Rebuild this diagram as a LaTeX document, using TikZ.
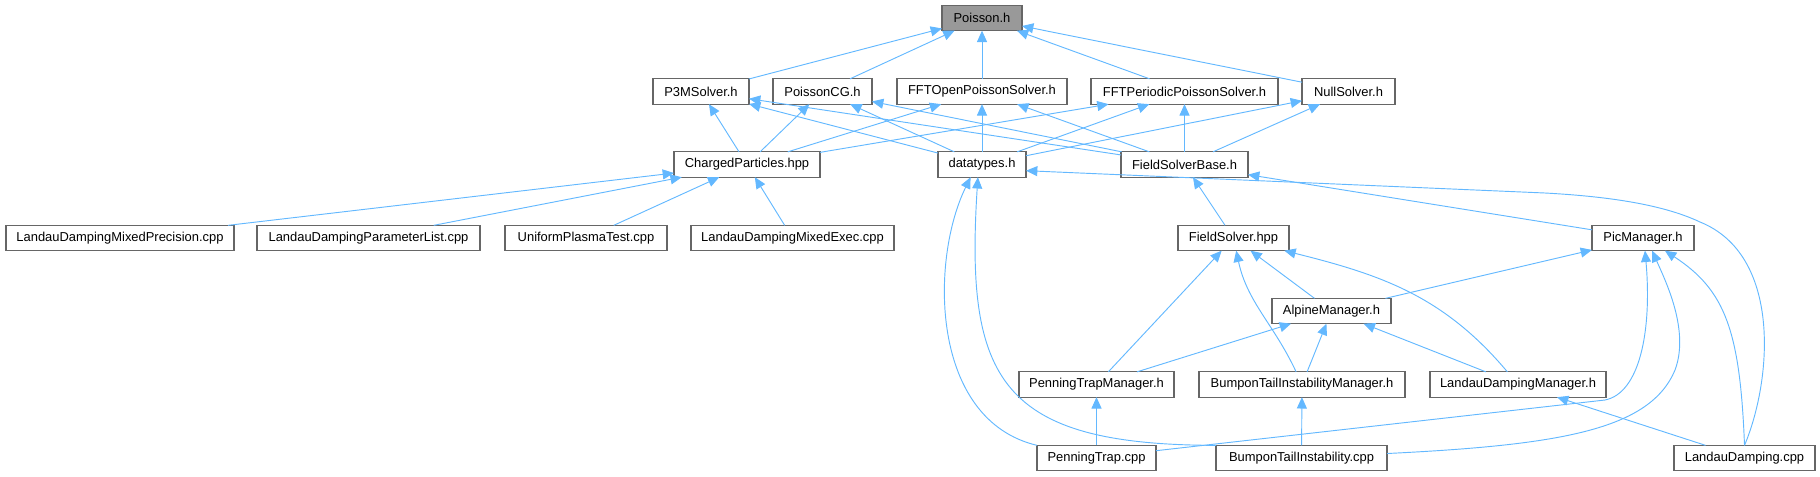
\documentclass[tikz,border=0pt]{standalone}
\usepackage{fontspec}
\setmainfont{Liberation Sans}
\usepackage{tikz}
\usetikzlibrary{arrows.meta}
\definecolor{edgeblue}{HTML}{63B8FF}
\definecolor{boxgray}{HTML}{666666}
\definecolor{rootgray}{HTML}{999999}
\newcommand{\boxheight}{19pt}
\tikzset{filebox/.style={rectangle, draw=boxgray, line width=0.8pt, fill=white, inner sep=1pt, outer sep=0pt, minimum height=\boxheight, font=\fontsize{9.7}{11}\selectfont}}
\tikzset{rootbox/.style={filebox, fill=rootgray}}
\tikzset{dep/.style={draw=edgeblue, line width=0.7pt, -{Triangle[length=8.5pt,width=7.5pt]}}}

\begin{document}
\begin{tikzpicture}[x=0.75pt,y=-0.75pt]
\useasboundingbox (0,0) rectangle (1820,476);

\node[rootbox, minimum width=60pt] (poisson) at (982,18) {Poisson.h};

\node[filebox, minimum width=72pt] (p3m) at (701,91.5) {P3MSolver.h};
\node[filebox, minimum width=74.25pt] (pcg) at (822.5,91.5) {PoissonCG.h};
\node[filebox, minimum width=127.5pt] (fftopen) at (982,91.5) {FFTOpenPoissonSolver.h};
\node[filebox, minimum width=140.25pt] (fftper) at (1184.5,91.5) {FFTPeriodicPoissonSolver.h};
\node[filebox, minimum width=69.75pt] (null) at (1348.5,91.5) {NullSolver.h};

\node[filebox, minimum width=109.5pt] (charged) at (747,164.5) {ChargedParticles.hpp};
\node[filebox, minimum width=66pt] (datatypes) at (982,164.5) {datatypes.h};
\node[filebox, minimum width=95.25pt] (fsbase) at (1184.5,164.5) {FieldSolverBase.h};

\node[filebox, minimum width=171pt] (ldmp) at (120,238) {LandauDampingMixedPrecision.cpp};
\node[filebox, minimum width=167.25pt] (ldpl) at (368.5,238) {LandauDampingParameterList.cpp};
\node[filebox, minimum width=121.5pt] (upt) at (586,238) {UniformPlasmaTest.cpp};
\node[filebox, minimum width=152.25pt] (ldme) at (792.5,238) {LandauDampingMixedExec.cpp};
\node[filebox, minimum width=83.25pt] (fsolver) at (1233.5,238) {FieldSolver.hpp};
\node[filebox, minimum width=76.5pt] (pic) at (1643,238) {PicManager.h};

\node[filebox, minimum width=89.25pt] (alpine) at (1331.5,311) {AlpineManager.h};

\node[filebox, minimum width=116.25pt] (ptm) at (1096.5,384.5) {PenningTrapManager.h};
\node[filebox, minimum width=154.5pt] (btim) at (1302,384.5) {BumponTailInstabilityManager.h};
\node[filebox, minimum width=132pt] (ldm) at (1518,384.5) {LandauDampingManager.h};

\node[filebox, minimum width=89.25pt] (pt) at (1096.5,458) {PenningTrap.cpp};
\node[filebox, minimum width=128.25pt] (bti) at (1301.5,458) {BumponTailInstability.cpp};
\node[filebox, minimum width=105.75pt] (ld) at (1744.5,458) {LandauDamping.cpp};

% solvers
\foreach \s in {p3m,pcg,fftopen,fftper,null} {
  \draw[dep] (\s) -- (poisson);
  \draw[dep] (datatypes) -- (\s);
  \draw[dep] (fsbase) -- (\s);
}
\foreach \s in {p3m,pcg,fftopen,fftper} {
  \draw[dep] (charged) -- (\s);
}

% examples on ChargedParticles
\foreach \s in {ldmp,ldpl,upt,ldme} {
  \draw[dep] (\s) -- (charged);
}

\draw[dep] (fsolver) -- (fsbase);
\draw[dep] (pic) -- (fsbase);
\draw[dep] (alpine) -- (fsolver);
\draw[dep] (alpine) -- (pic);

\draw[dep] (ptm) -- (fsolver);
\draw[dep] (ptm) -- (alpine);
\draw[dep] (btim) to[out=115, in=-78] (fsolver);
\draw[dep] (btim) -- (alpine);
\draw[dep] (ldm) to[out=130, in=-14] (fsolver);
\draw[dep] (ldm) -- (alpine);

\draw[dep] (pt) -- (ptm);
\draw[dep] (bti) -- (btim);
\draw[dep] (ld) -- (ldm);

% long ones
\draw[dep] (pt.north west) .. controls (930,420) and (930,260) .. (datatypes.-132);
\draw[dep] (bti.north west) .. controls (1000,445) and (965,380) .. (datatypes.-108);
\draw[dep] (ld.north) .. controls (1772,380) and (1782,255) .. (1700,222)
  .. controls (1660,203) and (1600,196) .. (1545,193) -- (datatypes.-8);
\draw[dep] (pt.7) -- (1605,400) .. controls (1640,393) and (1652,330) .. (pic.-81);
\draw[dep] (bti.3) .. controls (1560,445) and (1650,430) .. (1675,370)
  .. controls (1690,330) and (1665,280) .. (pic.-54);
\draw[dep] (ld.north) .. controls (1740,330) and (1725,290) .. (pic.-30);

%\draw[dotted] (0,0) rectangle (1820,476);

\end{tikzpicture}
\end{document}
